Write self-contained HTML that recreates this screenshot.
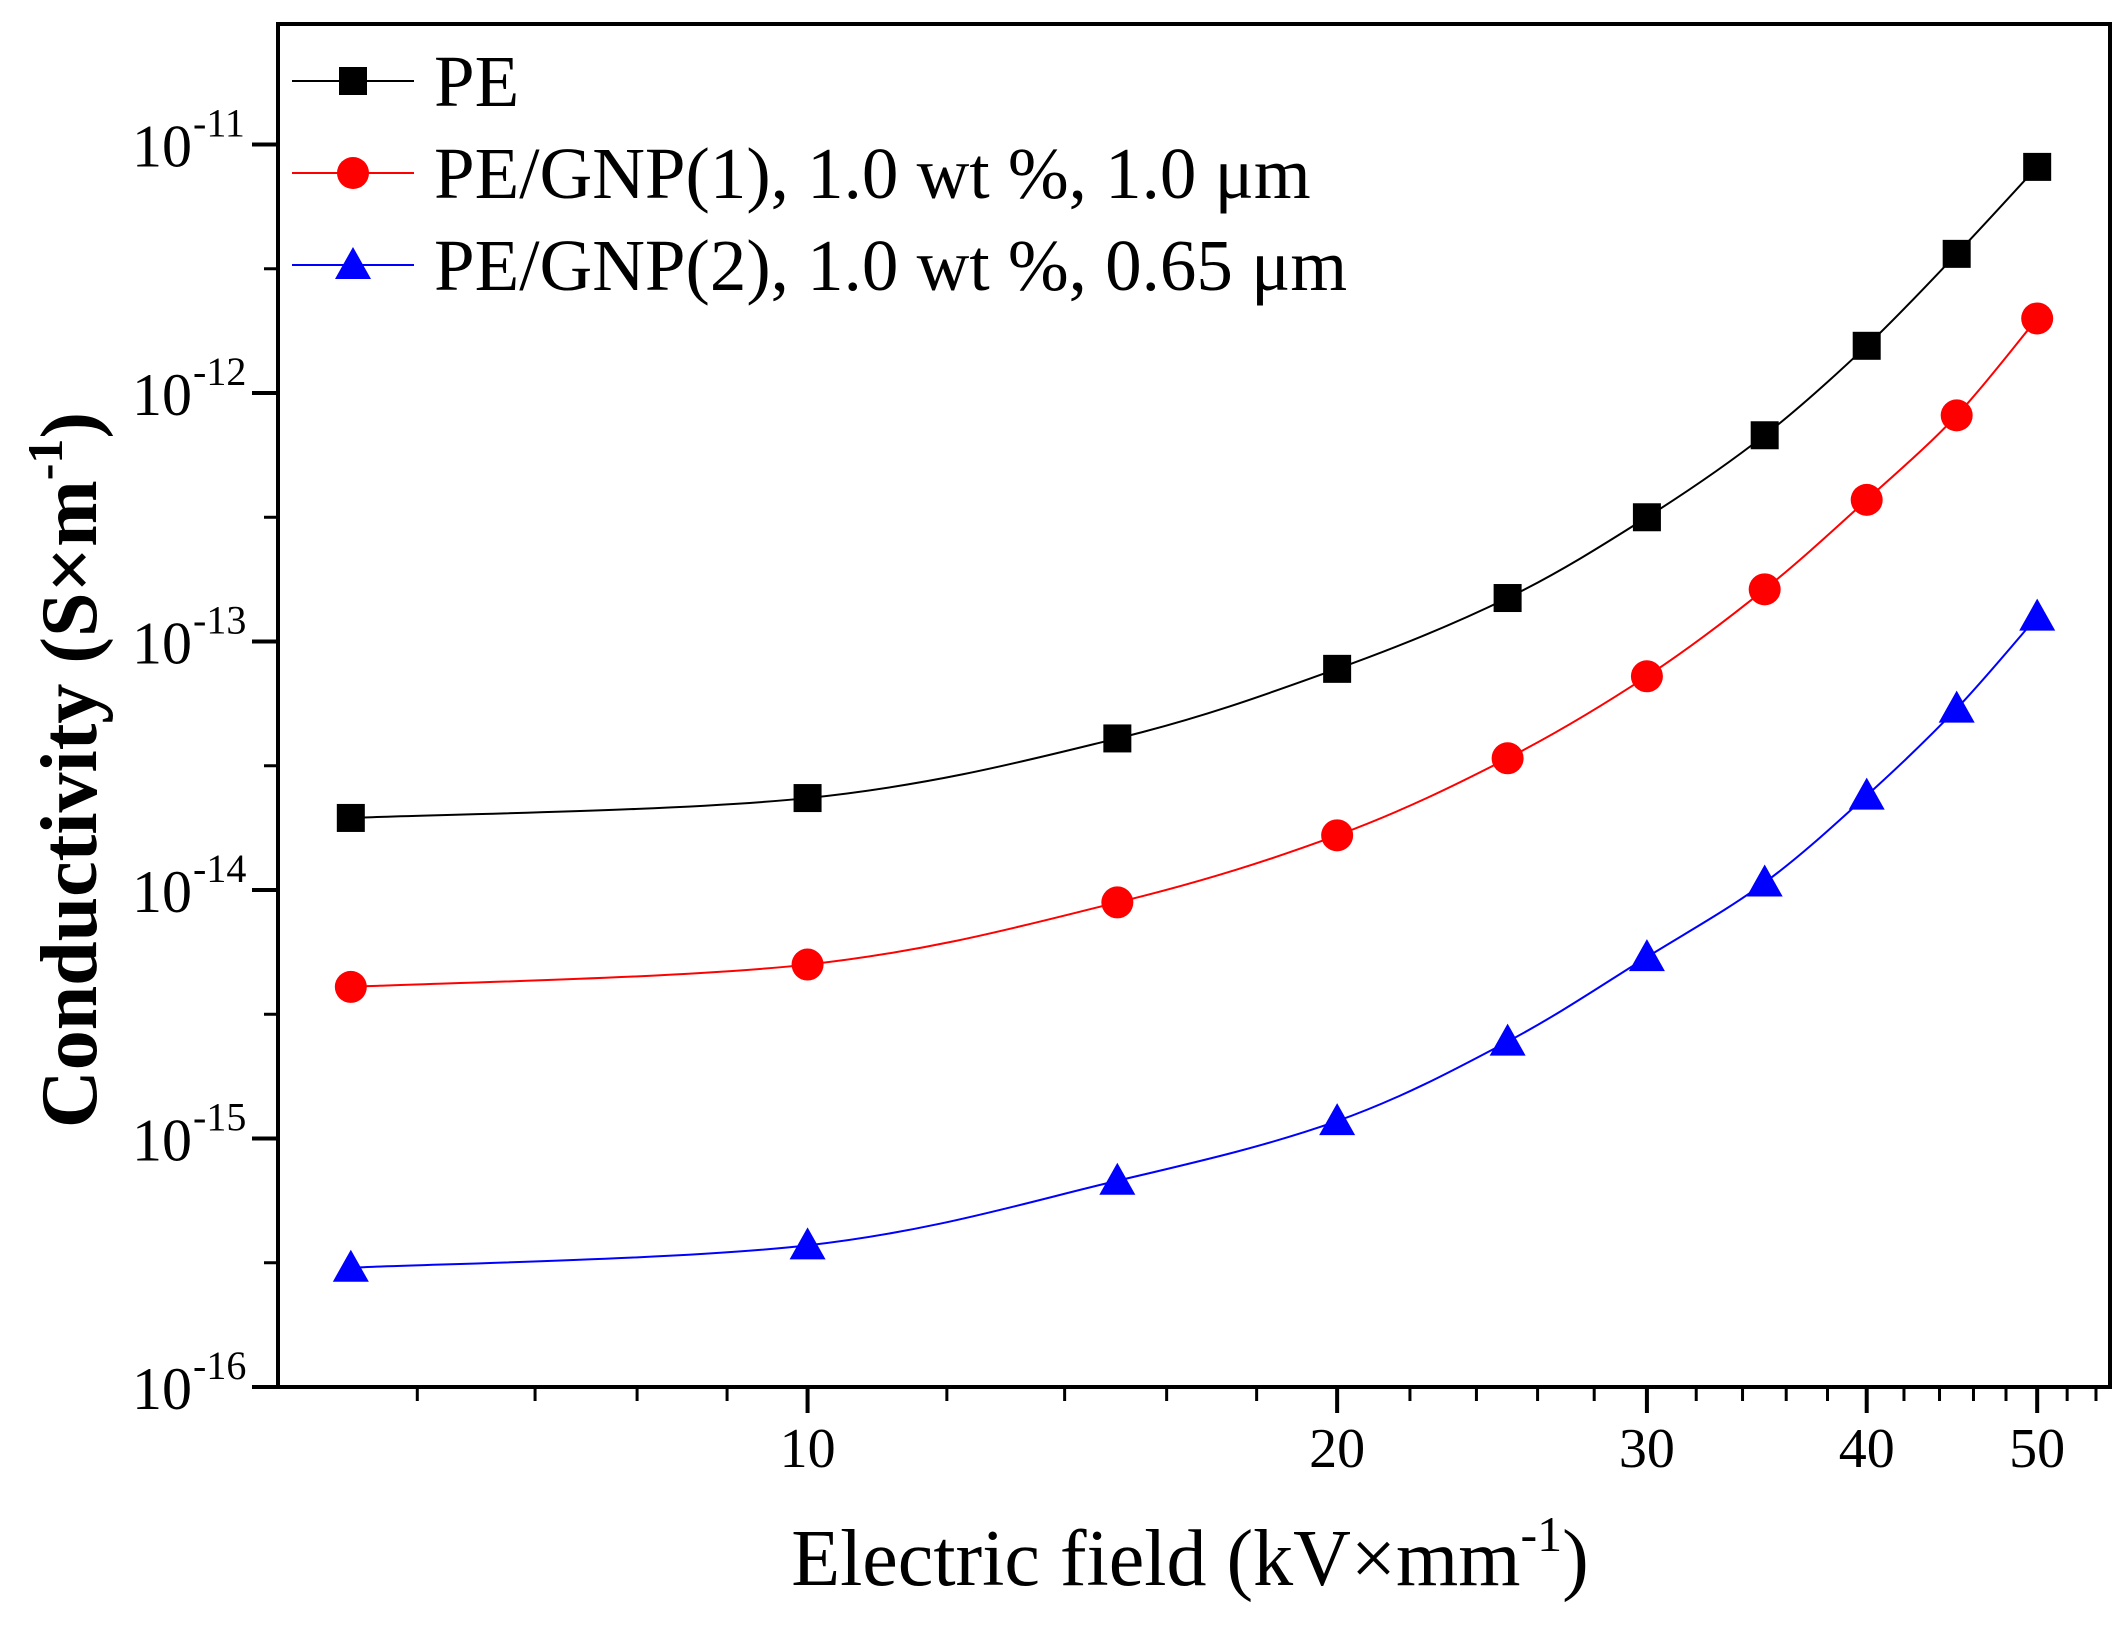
<!DOCTYPE html>
<html><head><meta charset="utf-8"><style>
html,body{margin:0;padding:0;background:#fff;}
svg{display:block;}
text{font-family:"Liberation Serif",serif;fill:#000;}
</style></head><body>
<svg id="chart" width="2128" height="1629" viewBox="0 0 2128 1629" xmlns="http://www.w3.org/2000/svg"></svg>
<script>
const xValues = [5.5, 10, 15, 20, 25, 30, 35, 40, 45, 50];
const pe = [-13.71, -13.63, -13.39, -13.11, -12.825, -12.50, -12.17, -11.81, -11.44, -11.09];
const gnp1 = [-14.39, -14.30, -14.05, -13.78, -13.47, -13.14, -12.79, -12.43, -12.09, -11.70];
const gnp2 = [-15.52, -15.43, -15.17, -14.93, -14.61, -14.27, -13.97, -13.62, -13.27, -12.90];
const xTickLabels = [10, 20, 30, 40, 50];
const xMinorTicks = [6,7,8,9,12,14,16,18,22,24,26,28,32,34,36,38,42,44,46,48,52,54];
const yTickExps = [-16, -15, -14, -13, -12, -11];

const NS = "http://www.w3.org/2000/svg";
const svg = document.getElementById('chart');
const L = 278, R = 2110, T = 24, B = 1387;
const xMin = Math.log10(5), xMax = Math.log10(55);
const yMin = -16, yMax = -10.515;
function xs(v){ return L + (Math.log10(v) - xMin) / (xMax - xMin) * (R - L); }
function ys(e){ return B - (e - yMin) / (yMax - yMin) * (B - T); }
function mk(tag, attrs, parent){
  const el = document.createElementNS(NS, tag);
  for (const k in attrs) el.setAttribute(k, attrs[k]);
  (parent || svg).appendChild(el);
  return el;
}

const ticks = mk('g', {});


xTickLabels.forEach(v => {
  mk('line', {x1: xs(v), x2: xs(v), y1: B, y2: B + 26, stroke: '#000', 'stroke-width': 4}, ticks);
  const t = mk('text', {x: xs(v), y: B + 80, 'text-anchor': 'middle', 'font-size': 56});
  t.textContent = v;
  
  
});
xMinorTicks.forEach(v => {
  mk('line', {x1: xs(v), x2: xs(v), y1: B, y2: B + 14, stroke: '#000', 'stroke-width': 3}, ticks);
});
yTickExps.forEach(e => {
  const y = ys(e);
  mk('line', {x1: L - 26, x2: L, y1: y, y2: y, stroke: '#000', 'stroke-width': 4}, ticks);
  if (e + 0.5 < yMax) {
    const ym = ys(e + 0.5);
    mk('line', {x1: L - 14, x2: L, y1: ym, y2: ym, stroke: '#000', 'stroke-width': 3}, ticks);
  }
  const t = mk('text', {x: 192, y: y + 22, 'text-anchor': 'end', 'font-size': 60});
  t.textContent = '10';
  
  
  const s = mk('text', {x: 193, y: y - 8, 'font-size': 40});
  s.textContent = String(e);
  
  
});

function smoothPath(xv, yv){
  const p = xv.map((v, i) => [xs(v), ys(yv[i])]);
  let d = 'M' + p[0][0] + ',' + p[0][1];
  for (let i = 0; i < p.length - 1; i++) {
    const p0 = p[Math.max(0, i - 1)], p1 = p[i], p2 = p[i + 1], p3 = p[Math.min(p.length - 1, i + 2)];
    const c1 = [p1[0] + (p2[0] - p0[0]) / 6, p1[1] + (p2[1] - p0[1]) / 6];
    const c2 = [p2[0] - (p3[0] - p1[0]) / 6, p2[1] - (p3[1] - p1[1]) / 6];
    d += ' C' + c1 + ' ' + c2 + ' ' + p2;
  }
  return d;
}
function marker(shape, x, y, color, parent){
  let el;
  if (shape === 'square') el = mk('rect', {x: x - 14, y: y - 14, width: 28, height: 28, fill: color}, parent);
  else if (shape === 'circle') el = mk('circle', {cx: x, cy: y, r: 16, fill: color}, parent);
  else el = mk('polygon', {points: `${x},${y - 18} ${x + 18},${y + 14} ${x - 18},${y + 14}`, fill: color}, parent);
  return el;
}
const series = [
  {name: 'pe', vals: pe, color: '#000', shape: 'square'},
  {name: 'gnp1', vals: gnp1, color: '#ff0000', shape: 'circle'},
  {name: 'gnp2', vals: gnp2, color: '#0000ff', shape: 'triangle'}
];
series.forEach(s => {
  const g = mk('g', {});
  
  
  mk('path', {d: smoothPath(xValues, s.vals), fill: 'none', stroke: s.color, 'stroke-width': 2}, g);
  xValues.forEach((v, i) => {
    const m = marker(s.shape, xs(v), ys(s.vals[i]), s.color, g);
    
    
  });
});

const frame = mk('rect', {x: L, y: T, width: R - L, height: B - T, fill: 'none', stroke: '#000', 'stroke-width': 4});



const legendText = ['PE', 'PE/GNP(1), 1.0 wt %, 1.0 \u03bcm', 'PE/GNP(2), 1.0 wt %, 0.65 \u03bcm'];
const lg = mk('g', {});


series.forEach((s, i) => {
  const y = 81 + i * 92;
  const e = mk('g', {}, lg);
  
  
  mk('line', {x1: 292, x2: 414, y1: y, y2: y, stroke: s.color, 'stroke-width': 2}, e);
  marker(s.shape, 353, y, s.color, e);
  const t = mk('text', {x: 434, y: y + 25, 'font-size': 73}, e);
  t.textContent = legendText[i];
});

const xt = mk('text', {x: 1190, y: 1585, 'text-anchor': 'middle', 'font-size': 80});


xt.innerHTML = 'Electric field (kV\u00d7mm<tspan dy="-34" font-size="50">-1</tspan><tspan dy="34">)</tspan>';
const yt = mk('text', {x: 0, y: 0, 'text-anchor': 'middle', 'font-size': 80, 'font-weight': 600, transform: 'translate(96,770) rotate(-90)'});


yt.innerHTML = 'Conductivity (S\u00d7m<tspan dy="-34" font-size="50">-1</tspan><tspan dy="34">)</tspan>';
</script>
</body></html>
